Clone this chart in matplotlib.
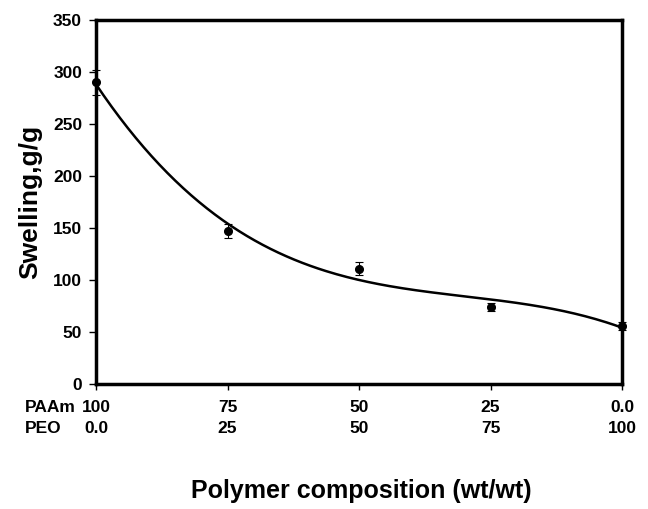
import numpy as np
import matplotlib
matplotlib.use("Agg")
import matplotlib.pyplot as plt

plt.rcParams['font.family'] = ['Liberation Sans', 'DejaVu Sans']
plt.rcParams['font.weight'] = 'bold'

# PEO content (wt%) along x, PAAm = 100 - PEO
peo = [0, 25, 50, 75, 100]
paam_labels = ['100', '75', '50', '25', '0.0']
peo_labels = ['0.0', '25', '50', '75', '100']
swelling = [290, 147, 111, 74, 56]
swelling_err = [12, 7, 6, 4, 4]

# 3rd order polynomial trendline through the measured points
coeffs = np.polyfit(peo, swelling, 3)
x_fit = np.linspace(0, 100, 200)
y_fit = np.polyval(coeffs, x_fit)

fig = plt.figure(figsize=(6.48, 5.09), dpi=100)
ax = fig.add_axes([96/648, 1-384/509, (622-96)/648, (384-20)/509])

ax.plot(x_fit, y_fit, color='black', linewidth=1.8)
ax.errorbar(peo, swelling, yerr=swelling_err, fmt='o', color='black',
            markersize=5.5, elinewidth=0.8, capsize=3, capthick=0.8, clip_on=False)

ax.set_xlim(0, 100)
ax.set_ylim(0, 350)
ax.set_yticks(range(0, 351, 50))
ax.set_xticks(peo)
ax.set_xticklabels([])
for s in ax.spines.values():
    s.set_linewidth(2.5)
ax.tick_params(axis='y', direction='out', length=5, width=1, labelsize=12.5, pad=5)
ax.tick_params(axis='x', direction='out', length=4, width=1)

# two-row composition labels under the axis
tr = ax.get_xaxis_transform()
for xv, a, b in zip(peo, paam_labels, peo_labels):
    ax.text(xv, -0.065, a, transform=tr, ha='center', va='center',
            fontsize=12.5, fontweight='bold')
    ax.text(xv, -0.122, b, transform=tr, ha='center', va='center',
            fontsize=12.5, fontweight='bold')
ax.text(-0.135, -0.065, 'PAAm', transform=ax.transAxes, ha='left', va='center',
        fontsize=12.5, fontweight='bold')
ax.text(-0.135, -0.122, 'PEO', transform=ax.transAxes, ha='left', va='center',
        fontsize=12.5, fontweight='bold')

ax.set_ylabel('Swelling,g/g', fontsize=19, fontweight='bold', labelpad=8)
fig.text(361/648, 1-491/509, 'Polymer composition (wt/wt)', ha='center', va='center',
         fontsize=18, fontweight='bold')

fig.savefig('out.png', dpi=100)
